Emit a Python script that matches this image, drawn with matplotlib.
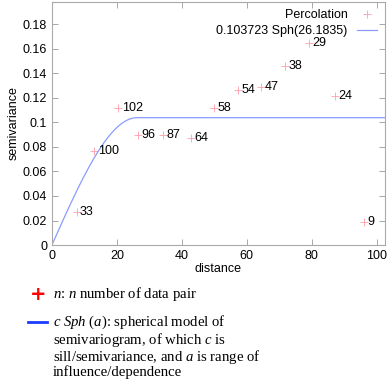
import numpy as np
import matplotlib.pyplot as plt

plt.rcParams['mathtext.fontset'] = 'custom'
plt.rcParams['mathtext.it'] = 'Liberation Serif:italic'
plt.rcParams['mathtext.rm'] = 'Liberation Serif'

# Data
distance = [7.6, 13.0, 20.4, 26.6, 34.2, 42.7, 49.8, 57.3, 64.5, 71.9, 79.2, 87.2, 96.0]
semivariance = [0.0267, 0.0767, 0.1116, 0.0900, 0.0900, 0.0871, 0.1120, 0.1260,
                0.1290, 0.1460, 0.1647, 0.1210, 0.0185]
pairs = [33, 100, 102, 96, 87, 64, 58, 54, 47, 38, 29, 24, 9]

# spherical model parameters
sill = 0.103723
rng = 26.1835

fig = plt.figure(figsize=(3.9, 3.8), dpi=100)
ax = fig.add_axes([0.133, 0.355, 0.854, 0.64])

xmax = 102.5
h = np.linspace(0, xmax, 400)
r = np.clip(h / rng, 0, 1)
model = sill * (1.5 * r - 0.5 * r ** 3)

ax.plot(distance, semivariance, linestyle='none', marker='+', markersize=6,
        markeredgewidth=0.6, color='#ff9fa8', label='Percolation')
ax.plot(h, model, color='#8a9cff', linewidth=0.9, label='0.103723 Sph(26.1835)')

for x, y, n in zip(distance, semivariance, pairs):
    ax.annotate(str(n), (x, y), xytext=(2.5, 0), textcoords='offset points',
                va='center', ha='left', fontsize=9, family='Liberation Sans')

ax.set_xlim(0, xmax)
ax.set_ylim(0, 0.198)
ax.set_xticks([0, 20, 40, 60, 80, 100])
ax.set_yticks(np.arange(0, 0.19, 0.02))
ax.set_yticklabels(['0', '0.02', '0.04', '0.06', '0.08', '0.1', '0.12', '0.14', '0.16', '0.18'])
ax.tick_params(direction='in', top=True, right=True, length=4, width=0.6,
               color='#999999', labelsize=9)
for lbl in ax.get_xticklabels() + ax.get_yticklabels():
    lbl.set_family('Liberation Sans')
for s in ax.spines.values():
    s.set_color('#aaaaaa')
    s.set_linewidth(0.8)

ax.set_xlabel('distance', fontsize=9, family='Liberation Sans', labelpad=1)
ax.set_ylabel('semivariance', fontsize=9, family='Liberation Sans', labelpad=2)

leg = ax.legend(loc='upper right', frameon=False, markerfirst=False,
                prop={'family': 'Liberation Sans', 'size': 9},
                handlelength=1.6, borderaxespad=0.2, labelspacing=0.3)

# Notes below the chart
fig.text(38 / 390, 1 - 294 / 380, '+', color='red', fontsize=14, fontweight='bold',
         ha='center', va='center', family='DejaVu Sans')
fig.text(53 / 390, 1 - 294 / 380, r'$n$: $n$ number of data pair',
         fontsize=10.6, va='center', family='Liberation Serif')
fig.add_artist(plt.Line2D([28 / 390, 47 / 390], [1 - 322 / 380] * 2, color='#1a3cff',
                          linewidth=2, transform=fig.transFigure))
note = ('$c\\ Sph$ ($a$): spherical model of\n'
        'semivariogram, of which $c$ is\n'
        'sill/semivariance, and $a$ is range of\n'
        'influence/dependence')
fig.text(53 / 390, 1 - 314 / 380, note, fontsize=10.6, va='top', ha='left',
         family='Liberation Serif', linespacing=0.95)

plt.savefig('out.png', dpi=100)
